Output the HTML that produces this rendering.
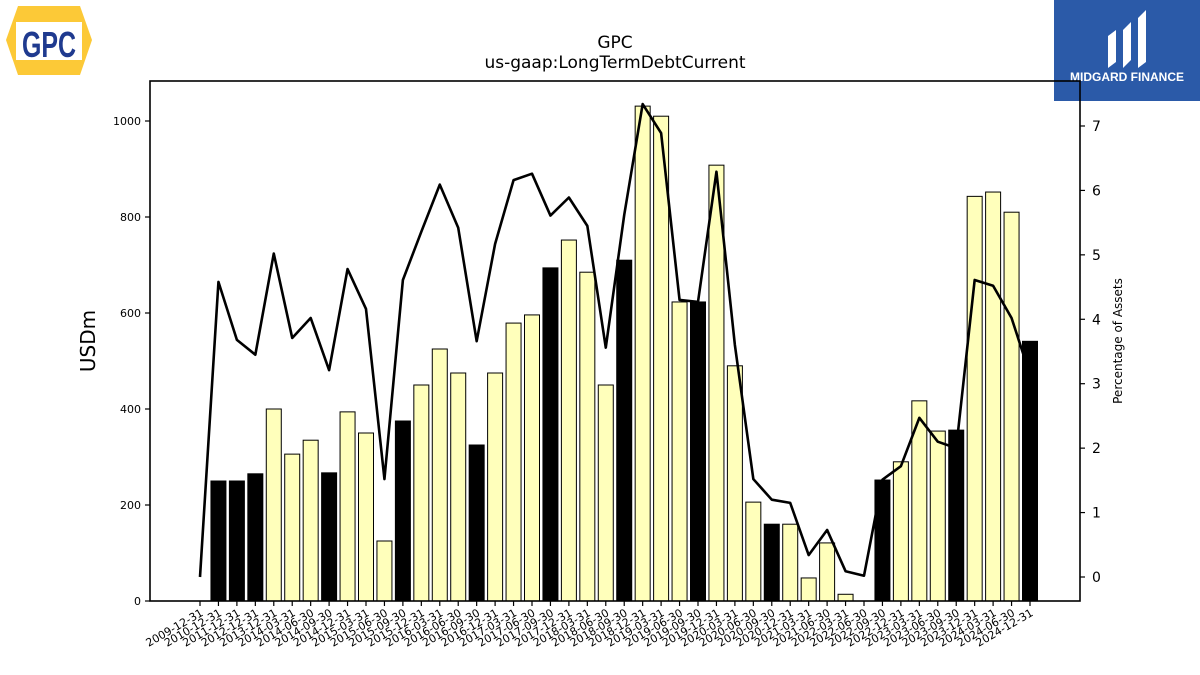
<!DOCTYPE html>
<html><head><meta charset="utf-8"><style>
html,body{margin:0;padding:0;background:#fff;width:1200px;height:675px;overflow:hidden;font-family:"Liberation Sans","DejaVu Sans",sans-serif}
</style></head><body>
<svg id="chart" width="1200" height="675" viewBox="0 0 1200 675" xmlns="http://www.w3.org/2000/svg" style="position:absolute;left:0;top:0">
  <g>
    <polygon points="18,6 80,6 92,40 80,75 18,75 6,40" fill="#fcc937"/>
    <rect x="16" y="22" width="66" height="38" fill="#fff"/>
    <text x="49" y="57" text-anchor="middle" font-size="36" font-weight="bold" fill="#1f3a8f" font-family="Liberation Sans Narrow, Liberation Sans, sans-serif" textLength="54" lengthAdjust="spacingAndGlyphs">GPC</text>
  </g>
  <g>
    <rect x="1054" y="0" width="146" height="101" fill="#2b5aa8"/>
    <path d="M1108,68 L1108,36 L1116,30 L1116,62 Z M1123,68 L1123,30 L1131,22 L1131,60 Z M1138,68 L1138,18 L1146,10 L1146,62 Z" fill="#fff"/>
    <text x="1127" y="81" text-anchor="middle" font-size="12" font-weight="bold" fill="#fff">MIDGARD FINANCE</text>
  </g>
  <text x="615" y="48" text-anchor="middle" font-size="17" font-family="DejaVu Sans, sans-serif">GPC</text>
  <text x="615" y="68" text-anchor="middle" font-size="17" font-family="DejaVu Sans, sans-serif">us-gaap:LongTermDebtCurrent</text>
  <g id="plot"></g>
  <text transform="translate(95,341) rotate(-90)" text-anchor="middle" font-size="20" font-family="DejaVu Sans, sans-serif">USDm</text>
  <text transform="translate(1122,341) rotate(-90)" text-anchor="middle" font-size="12" font-family="DejaVu Sans, sans-serif">Percentage of Assets</text>
</svg>
<script>
const categories = ["2009-12-31","2010-12-31","2011-12-31","2012-12-31","2013-12-31",
"2014-03-31","2014-06-30","2014-09-30","2014-12-31","2015-03-31","2015-06-30","2015-09-30","2015-12-31",
"2016-03-31","2016-06-30","2016-09-30","2016-12-31","2017-03-31","2017-06-30","2017-09-30","2017-12-31",
"2018-03-31","2018-06-30","2018-09-30","2018-12-31","2019-03-31","2019-06-30","2019-09-30","2019-12-31",
"2020-03-31","2020-06-30","2020-09-30","2020-12-31","2021-03-31","2021-06-30","2022-03-31","2022-06-30",
"2022-09-30","2022-12-31","2023-03-31","2023-06-30","2023-09-30","2023-12-31","2024-03-31","2024-06-30","2024-12-31"];
const debtValues = [0,250,250,265,400,306,335,267,394,350,125,375,450,525,475,325,475,579,596,694,752,685,450,710,1031,1010,623,623,908,490,206,160,160,48,121,14,0,252,290,417,354,356,843,852,810,541];
const annualFlags = [0,1,1,1,0,0,0,1,0,0,0,1,0,0,0,1,0,0,0,1,0,0,0,1,0,0,0,1,0,0,0,1,0,0,0,0,0,1,0,0,0,1,0,0,0,1];
const pctValues = [0,4.58,3.68,3.45,5.02,3.71,4.02,3.21,4.78,4.16,1.52,4.61,5.36,6.09,5.42,3.66,5.17,6.16,6.26,5.61,5.89,5.45,3.56,5.62,7.34,6.89,4.30,4.27,6.29,3.60,1.52,1.20,1.15,0.34,0.73,0.09,0.02,1.51,1.72,2.47,2.10,2.00,4.61,4.52,4.02,3.14];
const leftTicks = [0,200,400,600,800,1000];
const rightTicks = [0,1,2,3,4,5,6,7];

const NS="http://www.w3.org/2000/svg";
const L=150,R=1080,T=81,B=601;
const x0=200, step=(1030-200)/(categories.length-1);
const xs=i=>x0+i*step;
const yL=v=>B-v*0.48;
const yR=v=>577-v*64.43;
const g=document.getElementById('plot');
function mk(tag,attrs){const e=document.createElementNS(NS,tag);for(const k in attrs)e.setAttribute(k,attrs[k]);g.appendChild(e);return e;}

debtValues.forEach((v,i)=>{
  if(v<=0) return;
  const r=mk('rect',{x:xs(i)-7.5,y:yL(v),width:15,height:B-yL(v),fill:annualFlags[i]?'#000':'#ffffbb',stroke:'#000','stroke-width':1});
  
  
});
const pts=pctValues.map((v,i)=>xs(i)+','+yR(v)).join(' ');
const line=mk('polyline',{points:pts,fill:'none',stroke:'#000','stroke-width':2.6,'stroke-linejoin':'round'});



const frame=mk('rect',{x:L,y:T,width:R-L,height:B-T,fill:'none',stroke:'#000','stroke-width':1.6});



leftTicks.forEach(t=>{
  const y=yL(t);
  const tk=mk('line',{x1:L-5,x2:L,y1:y,y2:y,stroke:'#000','stroke-width':1.2});
  
  
  const tx=mk('text',{x:L-9,y:y+4,'text-anchor':'end','font-size':11,'font-family':'DejaVu Sans, sans-serif'});
  tx.textContent=t;
  
  
});
rightTicks.forEach(t=>{
  const y=yR(t);
  const tk=mk('line',{x1:R,x2:R+5,y1:y,y2:y,stroke:'#000','stroke-width':1.2});
  
  
  const tx=mk('text',{x:R+12,y:y+5,'font-size':14,'font-family':'DejaVu Sans, sans-serif'});
  tx.textContent=t;
  
  
});
categories.forEach((c,i)=>{
  const x=xs(i);
  const tk=mk('line',{x1:x,x2:x,y1:B,y2:B+5,stroke:'#000','stroke-width':1.2});
  
  
  const tx=mk('text',{transform:`translate(${x+4},${B+14}) rotate(-30)`,'text-anchor':'end','font-size':11,'font-family':'DejaVu Sans, sans-serif'});
  tx.textContent=c;
  
  
});
</script>
</body></html>
